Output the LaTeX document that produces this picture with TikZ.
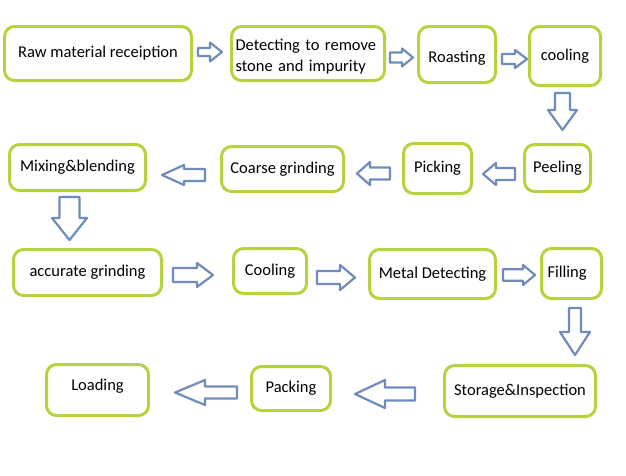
\documentclass[tikz,border=0pt]{standalone}
\usepackage{fontspec}
\setmainfont{Carlito}
\definecolor{boxgreen}{RGB}{181,211,61}
\definecolor{arrblue}{RGB}{111,140,189}
% #1 x, #2 y of tail centre, #3 angle, #4 length, #5 head length, #6 head half-width, #7 shaft half-width
\newcommand\blockarr[7]{%
  \draw[barrow, shift={(#1,#2)}, rotate=#3]
    (0,-#7) -- ({#4-#5},-#7) -- ({#4-#5},-#6) -- (#4,0) -- ({#4-#5},#6) -- ({#4-#5},#7) -- (0,#7) -- cycle;}
\tikzset{
  box/.style={draw=boxgreen, line width=3pt, rounded corners=10pt, fill=white, inner sep=2pt,
    font=\fontsize{16.5}{21}\selectfont},
  barrow/.style={draw=arrblue, line width=2.2pt, fill=white, line join=round}
}
\begin{document}
\begin{tikzpicture}[x=1pt,y=-1pt]
\useasboundingbox[fill=white] (0,0) rectangle (626,475);
% row 1
\node[box, minimum width=187pt, minimum height=54pt] (raw) at (98,53.5) {Raw material receiption};
\node[box, minimum width=153pt, minimum height=54pt, text width=145pt, align=left, text height=18.5pt, text depth=24.3pt] (det) at (308,53.5) {Detecting to remove\\stone and impurity};
\node[box, minimum width=77pt, minimum height=56pt, text height=19pt, text depth=3.3pt] (roast) at (457,54.5) {Roasting};
\node[box, minimum width=71pt, minimum height=59pt] (cool1) at (565,56) {cooling};
% row 2
\node[box, minimum width=136pt, minimum height=46pt] (mix) at (77.5,167.5) {Mixing\&blending};
\node[box, minimum width=122pt, minimum height=45pt] (coarse) at (282.5,169) {Coarse grinding};
\node[box, minimum width=68pt, minimum height=50pt] (pick) at (437.5,168.5) {Picking};
\node[box, minimum width=66pt, minimum height=47pt] (peel) at (557.5,168) {Peeling};
% row 3
\node[box, minimum width=148pt, minimum height=46pt] (acc) at (87.5,272.5) {accurate grinding};
\node[box, minimum width=73pt, minimum height=45pt] (cool2) at (270,271) {Cooling};
\node[box, minimum width=126pt, minimum height=49pt] (metal) at (432.5,274) {Metal Detecting};
\node[box, minimum width=60pt, minimum height=50pt, text width=48pt, align=left] (fill) at (571.5,273.5) {Filling};
% row 4
\node[box, minimum width=102pt, minimum height=51pt, text height=11.5pt, text depth=11.3pt] (load) at (97.5,390) {Loading};
\node[box, minimum width=79pt, minimum height=44pt] (pack) at (291,388.5) {Packing};
\node[box, minimum width=151pt, minimum height=51pt] (stor) at (520,391) {Storage\&Inspection};
% arrows
\blockarr{198}{52}{0}{24}{12}{9.5}{4}
\blockarr{390}{57.5}{0}{23}{11}{9}{5}
\blockarr{502}{59}{0}{25}{12}{9}{5}
\blockarr{562.5}{93}{-90}{37}{20}{14.5}{7.5}
\blockarr{515}{174}{180}{32}{13}{11}{6}
\blockarr{390}{173.5}{180}{33}{13}{11.5}{6}
\blockarr{205}{175}{180}{43}{22}{10}{6}
\blockarr{69.5}{197}{-90}{43}{22}{17.5}{10}
\blockarr{173}{275}{0}{40}{16}{12}{7}
\blockarr{317}{277.5}{0}{38}{15}{12.5}{6.5}
\blockarr{503}{275}{0}{32}{12}{10}{5.7}
\blockarr{575}{308}{-90}{47}{23}{15}{6}
\blockarr{237}{392.5}{180}{62}{30}{12.5}{6}
\blockarr{415}{394}{180}{60}{30}{14}{6.5}
\end{tikzpicture}
\end{document}
